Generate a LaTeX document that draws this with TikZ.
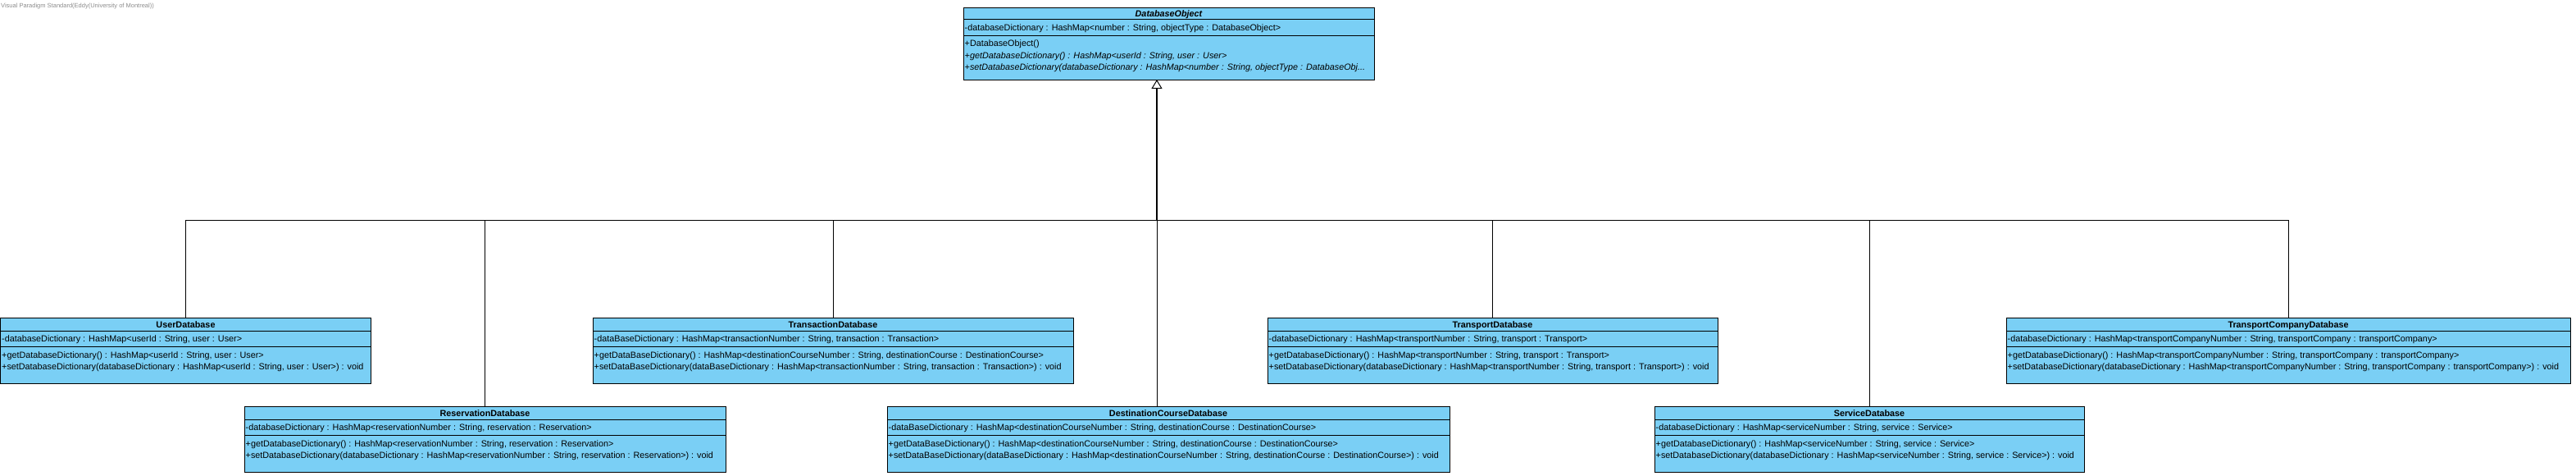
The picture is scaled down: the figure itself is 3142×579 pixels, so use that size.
\documentclass[tikz,border=0pt]{standalone}
\usepackage{fontspec}
\setmainfont{Liberation Sans}
\usetikzlibrary{calc,arrows.meta}
\definecolor{vpblue}{RGB}{122,207,245}
\definecolor{wmgray}{RGB}{140,140,140}
\tikzset{
  classbox/.style={draw=black, fill=vpblue, line width=1pt, inner sep=0pt, outer sep=0pt, anchor=north west},
  titletext/.style={font=\bfseries\fontsize{10.8}{13}\selectfont, inner sep=0pt, anchor=base},
  rowtext/.style={font=\fontsize{10.8}{13}\selectfont, inner sep=0pt, anchor=base west},
  seprule/.style={draw=black, line width=1pt},
  genline/.style={draw=black, line width=1pt},
  trunkline/.style={draw=black, line width=1.8pt, -{Triangle[open, width=13pt, length=11pt, line width=1pt, fill=white]}},
}
% name, x, y, w, h, title, sep1, sep2, title baseline
\newcommand{\classbox}[9]{%
  \node[classbox, minimum width=#4pt, minimum height=#5pt] (#1) at (#2,#3) {};
  \node[titletext] (#1-title) at ($(#1.north)+(0,#9)$) {#6};
  \draw[seprule] ($(#1.north west)+(0,#7)$) -- ($(#1.north east)+(0,#7)$);
  \draw[seprule] ($(#1.north west)+(0,#8)$) -- ($(#1.north east)+(0,#8)$);
}
% box, rowname, offset, text
\newcommand{\classrow}[4]{%
  \node[rowtext] (#1-#2) at ($(#1.north west)+(1.5,#3)$) {#4};
}
% box with standard subclass layout: name x y w title attr get set
\newcommand{\subclass}[8]{%
  \classbox{#1}{#2}{#3}{#4}{80}{#5}{16}{35}{12}
  \classrow{#1}{attr}{29}{#6}
  \classrow{#1}{get}{49}{#7}
  \classrow{#1}{set}{63}{#8}
}
\begin{document}
\begin{tikzpicture}[x=1pt,y=-1pt]
\useasboundingbox (0,0) rectangle (3142,579);

\node[anchor=base west, font=\fontsize{7.5}{9}\selectfont, text=wmgray, inner sep=0pt] (wm) at (1,9) {Visual Paradigm Standard(Eddy(University of Montreal))};

% parent
\classbox{dbo}{1175}{9}{501}{88}{\itshape DatabaseObject}{14}{34}{11}
\classrow{dbo}{attr}{28}{-databaseDictionary : HashMap<number : String, objectType : DatabaseObject>}
\classrow{dbo}{m1}{47}{+DatabaseObject()}
\classrow{dbo}{m2}{62}{\itshape +getDatabaseDictionary() : HashMap<userId : String, user : User>}
\classrow{dbo}{m3}{76.5}{\itshape +setDatabaseDictionary(databaseDictionary : HashMap<number : String, objectType : DatabaseObj...}

% subclasses
\subclass{user}{0.5}{387}{452}{UserDatabase}
  {-databaseDictionary : HashMap<userId : String, user : User>}
  {+getDatabaseDictionary() : HashMap<userId : String, user : User>}
  {+setDatabaseDictionary(databaseDictionary : HashMap<userId : String, user : User>) : void}
\subclass{res}{298}{495}{587}{ReservationDatabase}
  {-databaseDictionary : HashMap<reservationNumber : String, reservation : Reservation>}
  {+getDatabaseDictionary() : HashMap<reservationNumber : String, reservation : Reservation>}
  {+setDatabaseDictionary(databaseDictionary : HashMap<reservationNumber : String, reservation : Reservation>) : void}
\subclass{trans}{723}{387}{586}{TransactionDatabase}
  {-dataBaseDictionary : HashMap<transactionNumber : String, transaction : Transaction>}
  {+getDataBaseDictionary() : HashMap<destinationCourseNumber : String, destinationCourse : DestinationCourse>}
  {+setDataBaseDictionary(dataBaseDictionary : HashMap<transactionNumber : String, transaction : Transaction>) : void}
\subclass{dest}{1082}{495}{686}{DestinationCourseDatabase}
  {-dataBaseDictionary : HashMap<destinationCourseNumber : String, destinationCourse : DestinationCourse>}
  {+getDataBaseDictionary() : HashMap<destinationCourseNumber : String, destinationCourse : DestinationCourse>}
  {+setDataBaseDictionary(dataBaseDictionary : HashMap<destinationCourseNumber : String, destinationCourse : DestinationCourse>) : void}
\subclass{transport}{1546}{387}{549}{TransportDatabase}
  {-databaseDictionary : HashMap<transportNumber : String, transport : Transport>}
  {+getDatabaseDictionary() : HashMap<transportNumber : String, transport : Transport>}
  {+setDatabaseDictionary(databaseDictionary : HashMap<transportNumber : String, transport : Transport>) : void}
\subclass{service}{2018}{495}{524}{ServiceDatabase}
  {-databaseDictionary : HashMap<serviceNumber : String, service : Service>}
  {+getDatabaseDictionary() : HashMap<serviceNumber : String, service : Service>}
  {+setDatabaseDictionary(databaseDictionary : HashMap<serviceNumber : String, service : Service>) : void}
\subclass{tcomp}{2447}{387}{688}{TransportCompanyDatabase}
  {-databaseDictionary : HashMap<transportCompanyNumber : String, transportCompany : transportCompany>}
  {+getDatabaseDictionary() : HashMap<transportCompanyNumber : String, transportCompany : transportCompany>}
  {+setDatabaseDictionary(databaseDictionary : HashMap<transportCompanyNumber : String, transportCompany : transportCompany>) : void}

% generalization connectors
\coordinate (hub) at (1411,268);
\coordinate (tip) at (dbo.south -| hub);
\draw[genline] (user.north) |- (hub);
\draw[genline] (res.north) |- (hub);
\draw[genline] (trans.north) |- (hub);
\draw[genline] (dest.north -| hub) -- (hub);
\draw[genline] (transport.north) |- (hub);
\draw[genline] (service.north) |- (hub);
\draw[genline] (tcomp.north) |- (hub);
\draw[trunkline] (hub) -- (tip);
\end{tikzpicture}
\end{document}
